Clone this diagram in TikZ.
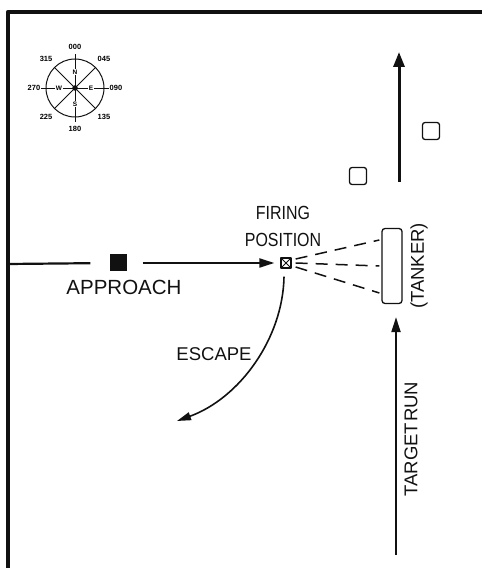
\documentclass[tikz,border=0pt]{standalone}
\usepackage{fontspec}
\setmainfont{Liberation Sans}
\usetikzlibrary{arrows.meta, positioning}
\definecolor{cink}{HTML}{111111}

\tikzset{
    ship/.style={draw=cink, line width=1.3pt, rounded corners=2.5pt, minimum size=17pt, inner sep=0},
    lbl/.style={font=\fontsize{18.5}{20}\selectfont, text=cink, inner sep=0},
    track/.style={cink, line width=2pt, -{Triangle[length=15pt, width=9pt]}},
}

\begin{document}
\begin{tikzpicture}[x=1pt, y=1pt, line join=round]
    \useasboundingbox (0,0) rectangle (482,568);
    \draw[cink, line width=4.5pt] (8,0) -- (8,556) -- (482,556);
    % compass
    \begin{scope}[shift={(75,480)}]
        \node (cc) [circle, fill=cink, inner sep=0, minimum size=5.5pt] at (0,0) {};
        \draw[cink, line width=1pt] (cc.center) circle (29);
        \foreach \a in {45,135,225,315} \draw[cink, line width=0.8pt] (cc.center) -- (\a:29);
        \foreach \a in {0,90,180,270} \draw[cink, line width=0.8pt] (cc.center) -- (\a:34);
        \foreach \a/\t in {90/N,0/E,270/S,180/W}
            \node (c\t) [fill=white, inner sep=0.6pt, font=\fontsize{6.5}{6.5}\selectfont\bfseries] at (\a:16) {\t};
        \foreach \a/\t in {90/000,45/045,0/090,-45/135,-90/180,-135/225,180/270,135/315}
            \node (d\t) [font=\fontsize{7.5}{7.5}\selectfont\bfseries] at (\a:41) {\t};
    \end{scope}
    % ships and heading
    \node (sh1) [ship] at (431,437) {};
    \node (sh2) [ship] at (358,392) {};
    \coordinate (nfrom) at (399,386);
    \coordinate (nto) at (399,516);
    \draw[cink, line width=3pt, -{Triangle[length=15pt, width=11pt]}] (nfrom) -- (nto);
    % approach
    \coordinate (entry) at (8,304);
    \node (appr) [fill=cink, minimum size=17pt, inner sep=0] at (118,305) {};
    \node (fire) [draw=cink, line width=1.3pt, minimum size=10pt, inner sep=0,
        path picture={\draw[cink, line width=0.9pt] (path picture bounding box.south west) -- (path picture bounding box.north east)
        (path picture bounding box.north west) -- (path picture bounding box.south east);}] at (286,305) {};
    \draw[cink, line width=2.2pt, shorten >=19pt] (entry) -- (appr.west);
    \draw[track, shorten <=16pt, shorten >=6pt] (appr.east) -- (fire.west);
    \node (apprlbl) [lbl, font=\fontsize{20.5}{22}\selectfont, below=8pt of appr, xshift=6pt] {APPROACH};
    \node (firelbl) [lbl, font=\fontsize{19}{27}\selectfont, align=center, above=10pt of fire, xshift=-3pt] {\scalebox{0.84}[1]{FIRING}\\\scalebox{0.84}[1]{POSITION}};
    % tanker
    \node (tanker) [draw=cink, line width=1.3pt, rounded corners=3pt, minimum width=20pt, minimum height=75pt, inner sep=0] at (392,302) {};
    \node (tankerlbl) [lbl, rotate=90] at ([xshift=27pt]tanker.center) {(TANKER)};
    \foreach \dy/\sy in {26/4,0/0,-27/-4}
        \draw[cink, line width=1.5pt, dash pattern=on 12pt off 8pt] ([xshift=4pt, yshift=\sy pt]fire.east) -- ([xshift=-2pt, yshift=\dy pt]tanker.west);
    % target run
    \coordinate (tstart) at (396,13);
    \draw[track] (tstart) -- ([xshift=4pt, yshift=-13pt]tanker.south);
    \node (runlbl) [lbl, rotate=90] at (411,129) {TARGET\hspace{1pt}RUN};
    % escape
    \coordinate (exit) at (177,147);
    \draw[cink, line width=1.6pt, -{Triangle[length=14pt, width=8pt]}] ([xshift=-2pt, yshift=-8pt]fire.south) .. controls (283,230) and (240,170) .. (exit);
    \node (esclbl) [lbl] at (214,214) {ESCAPE};
\end{tikzpicture}
\end{document}
